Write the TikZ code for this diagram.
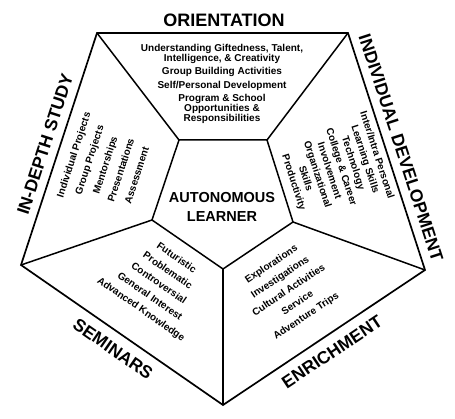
\documentclass[tikz,border=0pt]{standalone}
\usepackage{fontspec}
\setmainfont{Liberation Sans}
\usetikzlibrary{calc}
\definecolor{ink}{RGB}{0,0,0}
\tikzset{
    % Section titles
    sectiontitle/.style={
        font=\fontsize{17.5}{20}\selectfont\bfseries,
        text=ink,
        inner sep=0pt
    },
    % Centre title
    learnertitle/.style={
        font=\fontsize{14.5}{19.5}\selectfont\bfseries,
        text=ink,
        align=center,
        inner sep=0pt
    },
    % Activity lists
    activities/.style={
        font=\fontsize{10}{12.5}\selectfont\bfseries,
        text=ink,
        align=center,
        inner sep=0pt
    },
    % Lines
    rim/.style={
        draw=ink,
        line width=1.7pt,
        line join=miter
    },
    spoke/.style={
        draw=ink,
        line width=1.5pt
    }
}

\begin{document}
\begin{tikzpicture}[x=1pt, y=-1pt]

    \useasboundingbox (0,0) rectangle (455,419);

    % Outer pentagon
    \coordinate (otl) at (97,33);
    \coordinate (otr) at (348,33);
    \coordinate (orr) at (425,270);
    \coordinate (obt) at (223,405);
    \coordinate (oll) at (21,265);

    % Inner pentagon
    \coordinate (itl) at (179,140);
    \coordinate (itr) at (267,140);
    \coordinate (irr) at (293,222);
    \coordinate (ibt) at (223,269);
    \coordinate (ill) at (152,220);

    \draw[rim] (otl) -- (otr) -- (orr) -- (obt) -- (oll) -- cycle;
    \draw[spoke] (itl) -- (itr) -- (irr) -- (ibt) -- (ill) -- cycle;

    % Spokes
    \draw[spoke] (otl) -- (itl);
    \draw[spoke] (otr) -- (itr);
    \draw[spoke] (orr) -- (irr);
    \draw[spoke] (obt) -- (ibt);
    \draw[spoke] (oll) -- (ill);

    % Section titles
    \node[sectiontitle, font=\fontsize{18}{20}\selectfont\bfseries] (orient) at (224,20.5) {ORIENTATION};
    \node[sectiontitle, rotate=-72] (indiv) at (401,148) {INDIVIDUAL DEVELOPMENT};
    \node[sectiontitle, rotate=72] (indepth) at (45,144) {IN-DEPTH STUDY};
    \node[sectiontitle, rotate=-34.7] (semin) at (113,349) {SEMINARS};
    \node[sectiontitle, rotate=33.7] (enrich) at (332,352) {ENRICHMENT};

    % Centre
    \node[learnertitle] (learner) at (222,207) {AUTONOMOUS\\LEARNER};

    % Orientation list
    \node[activities, font=\fontsize{10}{10}\selectfont\bfseries] (orientlist) at (222,84) {
        Understanding Giftedness, Talent,\\
        Intelligence, \& Creativity\\[3.6pt]
        Group Building Activities\\[3.4pt]
        Self/Personal Development\\[3.8pt]
        Program \& School\\
        Opportunities \&\\
        Responsibilities
    };

    % Individual development list
    \node[activities, rotate=-72] (indivlist) at (335,169) {
        Inter/Intra Personal\\
        Learning Skills\\
        Technology\\
        College \& Career\\
        Involvement\\
        Organizational\\
        Skills\\
        Productivity
    };

    % In-depth study list
    \node[activities, rotate=72, font=\fontsize{10}{16.6}\selectfont\bfseries] (indepthlist) at (105,165) {
        Individual Projects\\
        Group Projects\\
        Mentorships\\
        Presentations\\
        Assessment
    };

    % Seminars list
    \node[activities, rotate=-34.7, font=\fontsize{10}{15.6}\selectfont\bfseries] (seminlist) at (158.5,284) {
        Futuristic\\
        Problematic\\
        Controversial\\
        General Interest\\
        Advanced Knowledge
    };

    % Enrichment list
    \node[activities, rotate=33.7, font=\fontsize{10}{15.6}\selectfont\bfseries] (enrichlist) at (289,290.5) {
        Explorations\\
        Investigations\\
        Cultural Activities\\
        Service\\
        Adventure Trips
    };

\end{tikzpicture}
\end{document}
